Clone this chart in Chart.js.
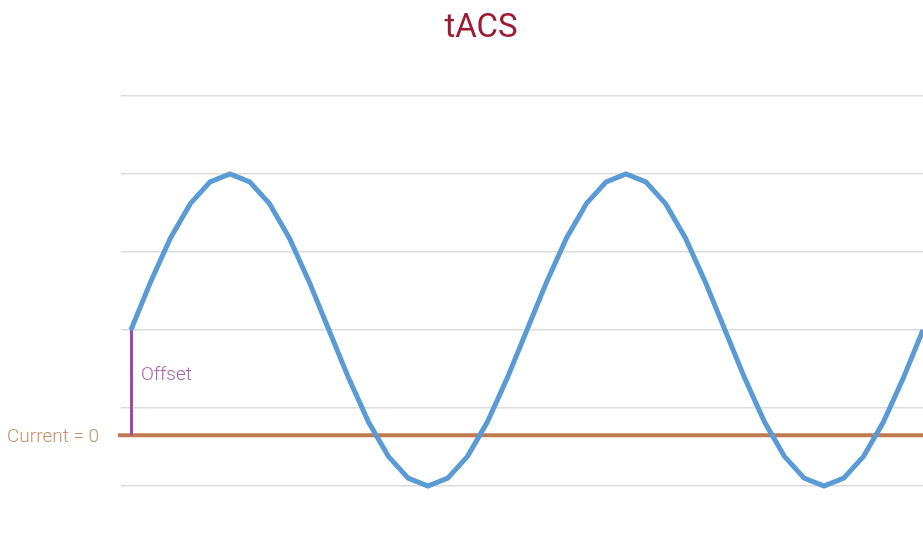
<!DOCTYPE html>
<html>
<head>
<meta charset="utf-8">
<title>tACS</title>
<script src="https://cdn.jsdelivr.net/npm/chart.js@4"></script>
<style>
  html, body { margin: 0; padding: 0; background: #fff; }
  #wrap { width: 923px; height: 560px; position: relative; }
</style>
</head>
<body>
<div id="wrap"><canvas id="tacsChart"></canvas></div>
<script>
// sample index along the time axis (two full periods, 20 samples each)
const steps = [0, 1, 2, 3, 4, 5, 6, 7, 8, 9, 10, 11, 12, 13, 14, 15, 16, 17, 18, 19,
  20, 21, 22, 23, 24, 25, 26, 27, 28, 29, 30, 31, 32, 33, 34, 35, 36, 37, 38, 39, 40];
// stimulation current in gridline units
const currentValues = [2.00, 2.62, 3.18, 3.62, 3.90, 4.00, 3.90, 3.62, 3.18, 2.62,
  2.00, 1.38, 0.82, 0.38, 0.10, 0.00, 0.10, 0.38, 0.82, 1.38,
  2.00, 2.62, 3.18, 3.62, 3.90, 4.00, 3.90, 3.62, 3.18, 2.62,
  2.00, 1.38, 0.82, 0.38, 0.10, 0.00, 0.10, 0.38, 0.82, 1.38, 2.00];
const zeroLevel = 0.65;   // where "Current = 0" sits
const offsetLevel = 2.00; // mean of the wave
const yTicks = [0, 1, 2, 3, 4, 5];

const labelFont = '300 19px Roboto, "DejaVu Sans", sans-serif';

// draws the title and the two small annotations
const textPlugin = {
  id: 'tacsText',
  afterDraw(chart) {
    const ctx = chart.ctx;
    const x = chart.scales.x;
    const y = chart.scales.y;
    ctx.save();
    ctx.textBaseline = 'middle';

    ctx.font = '33px Roboto, "DejaVu Sans", sans-serif';
    ctx.fillStyle = '#9e1a33';
    ctx.textAlign = 'center';
    ctx.fillText('tACS', 481, 29);

    ctx.font = labelFont;
    ctx.fillStyle = '#c98f6a';
    ctx.textAlign = 'left';
    ctx.fillText('Current = 0', 7, y.getPixelForValue(zeroLevel) + 2);

    ctx.fillStyle = '#ad62b3';
    ctx.fillText('Offset', x.getPixelForValue(0) + 10, y.getPixelForValue((zeroLevel + offsetLevel) / 2 + 0.1));
    ctx.restore();
  }
};

const ctx = document.getElementById('tacsChart').getContext('2d');
new Chart(ctx, {
  type: 'line',
  data: {
    datasets: [
      {
        label: 'Current = 0',
        data: [{ x: -0.65, y: zeroLevel }, { x: steps[steps.length - 1], y: zeroLevel }],
        borderColor: '#bf7a4f',
        borderWidth: 4,
        pointRadius: 0,
        clip: false,
        order: 3,
      },
      {
        label: 'Offset',
        data: [{ x: 0.03, y: zeroLevel }, { x: 0.03, y: offsetLevel }],
        borderColor: '#a24aa9',
        borderWidth: 3,
        pointRadius: 0,
        order: 2,
      },
      {
        label: 'tACS',
        data: steps.map((s, i) => ({ x: s, y: currentValues[i] })),
        borderColor: '#5b9bd5',
        borderWidth: 5,
        pointRadius: 0,
        tension: 0,
        clip: false,
        order: 1,
      },
    ],
  },
  options: {
    responsive: true,
    maintainAspectRatio: false,
    animation: false,
    layout: {
      padding: { left: 121, right: 0, top: 96, bottom: 74 },
    },
    scales: {
      x: {
        type: 'linear',
        min: -0.5,
        max: 40,
        display: false,
      },
      y: {
        min: yTicks[0],
        max: yTicks[yTicks.length - 1],
        afterBuildTicks: axis => { axis.ticks = yTicks.map(v => ({ value: v })); },
        grid: {
          color: '#dcdcdc',
          lineWidth: 1.5,
          drawTicks: false,
        },
        border: { display: false },
        ticks: { display: false },
      },
    },
    plugins: {
      legend: { display: false },
      title: { display: false },
      tooltip: { enabled: false },
    },
  },
  plugins: [textPlugin],
});
</script>
</body>
</html>
